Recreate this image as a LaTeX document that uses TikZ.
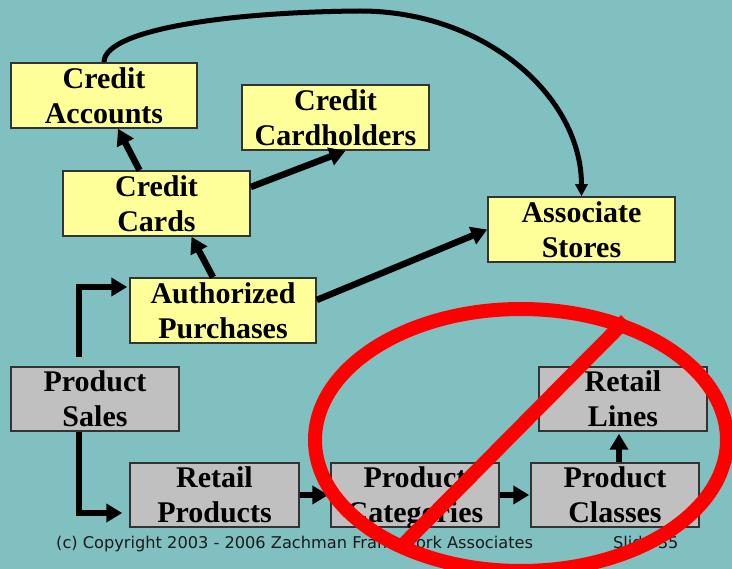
\documentclass[tikz,border=0pt]{standalone}
\usepackage{fontspec}
\setmainfont{Liberation Serif}[BoldFont={Liberation Serif Bold}]
\newfontfamily\boxfont{Liberation Serif Bold}
\newfontfamily\footfont{DejaVu Sans}
\usetikzlibrary{arrows.meta,calc}
\definecolor{bgteal}{HTML}{80C0C0}
\definecolor{boxyellow}{HTML}{FFFF99}
\definecolor{boxgray}{HTML}{C0C0C0}
\definecolor{foottext}{HTML}{1A1A1A}
\tikzset{
  entity/.style={draw=black!80, line width=1.5pt, minimum width=186pt, minimum height=65pt,
    inner sep=0pt, align=center, text depth=0pt,
    font=\boxfont\fontsize{30}{35}\selectfont},
  yent/.style={entity, fill=boxyellow},
  gent/.style={entity, fill=boxgray, minimum width=168pt, minimum height=64pt},
  rel/.style={line width=6.5pt, -{Triangle[length=16pt,width=18pt]}},
  curverel/.style={line width=5pt, -{Triangle[length=12pt,width=12pt]}},
  nogo/.style={draw=red, line width=14pt},
  foot/.style={font=\footfont\fontsize{16.2}{18}\selectfont, text=foottext, inner sep=0pt, anchor=base west}
}
\begin{document}
\begin{tikzpicture}[x=1pt,y=-1pt]
\useasboundingbox (0,0) rectangle (732,569);
\fill[bgteal] (0,0) rectangle (732,569);
\clip (0,0) rectangle (732,569);
% entities
\node[yent] (ca) at (104,95.5) {Credit\\Accounts};
\node[yent, minimum width=187pt] (ch) at (335.5,117.5) {Credit\\Cardholders};
\node[yent, minimum width=187pt] (cc) at (156.5,203.5) {Credit\\Cards};
\node[yent, minimum width=187pt] (as) at (581.5,229.5) {Associate\\Stores};
\node[yent] (ap) at (223,310.5) {Authorized\\Purchases};
\node[gent] (ps) at (95,399) {Product\\Sales};
\node[gent, minimum width=169pt] (rp) at (214.5,495) {Retail\\Products};
\node[gent] (pc) at (415,495) {Product\\Categories};
\node[gent] (pk) at (615,495) {Product\\Classes};
\node[gent] (rl) at (623,399) {Retail\\Lines};
% connectors
\draw[rel] ([xshift=-17pt]cc.north) -- ([xshift=14pt]ca.south);
\draw[rel] ([yshift=16.5pt]cc.east) -- ([xshift=10pt]ch.south);
\draw[rel] ([xshift=-10pt]ap.north) -- ([xshift=35pt]cc.south);
\draw[rel] ([yshift=10.5pt]ap.east) -- (as.west);
\draw[curverel] (ca.north) .. controls ($(ca.north)+(0,-33)$) and (230,12) .. (360,11)
  .. controls (485,11) and ($(as.north)+(0,-100)$) .. (as.north);
\draw[rel] ([shift={(-16pt,9pt)}]ps.north) |- ([shift={(-2pt,23.5pt)}]ap.west);
\draw[rel] ([xshift=-16pt]ps.south) |- ([shift={(-7pt,-18pt)}]rp.west);
\draw[rel] (rp.east) -- ([xshift=-2pt]pc.west);
\draw[rel] (pc.east) -- ([xshift=-1pt]pk.west);
\draw[rel] ([xshift=4pt]pk.north) -- ([xshift=4pt,yshift=-2pt]pk.north |- rl.south);
% footer
\node[foot] (copy) at (56,549) {(c) Copyright 2003 - 2006 Zachman Framework Associates};
\node[foot] (slide) at (613,549) {Slide 35};
% prohibition sign
\draw[nogo] (521,440) ellipse [x radius=206pt, y radius=131pt];
\draw[nogo] (626,320) -- (398,550);
\end{tikzpicture}
\end{document}
